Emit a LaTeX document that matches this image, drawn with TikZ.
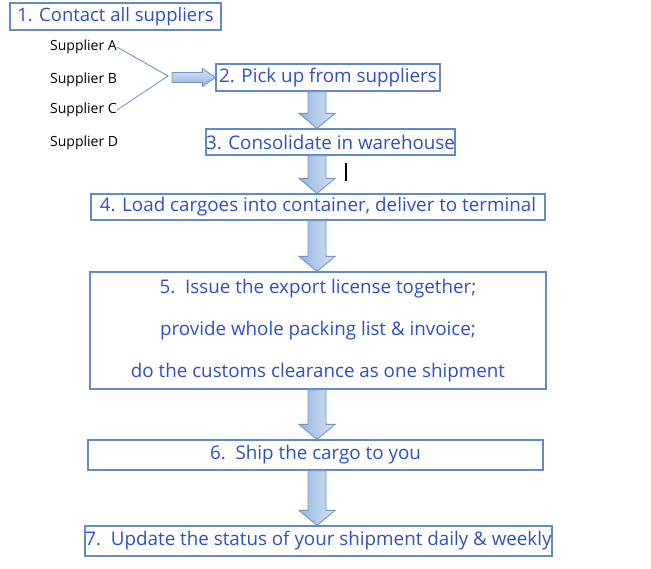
\documentclass[tikz,border=0pt]{standalone}
\usepackage{fontspec}
\setmainfont{Open Sans}
\usepackage{tikz}
\usetikzlibrary{arrows.meta,calc,positioning}
\usepackage{xcolor}

\definecolor{boxline}{RGB}{98,138,198}
\definecolor{steptext}{RGB}{48,78,200}
\definecolor{arrowline}{RGB}{112,150,200}
\definecolor{arrowlight}{RGB}{212,226,244}
\definecolor{arrowdark}{RGB}{150,182,222}

\tikzset{
  stepbox/.style={draw=boxline, line width=1.2pt, text=steptext, inner sep=0pt,
    font=\fontsize{18.8}{22}\selectfont},
  supplier/.style={anchor=west, inner sep=0pt, font=\fontsize{14}{16}\selectfont},
  fork/.style={draw=arrowline, line width=0.9pt},
  blockdown/.style={draw=arrowline, line width=0.9pt, left color=arrowdark, right color=arrowlight},
  blockright/.style={draw=arrowline, line width=0.9pt, top color=arrowlight, bottom color=arrowdark},
}

\begin{document}
\begin{tikzpicture}[x=1pt, y=-1pt]
    \useasboundingbox (0,0) rectangle (651,569);

    % 步骤框
    \node[stepbox, minimum width=211pt, minimum height=27pt, font=\fontsize{18.5}{22}\selectfont] (s1) at (115.5,16.5) {1. Contact all suppliers};
    \node[stepbox, minimum width=224pt, minimum height=27pt] (s2) at (328,77.5) {2. Pick up from suppliers};
    \node[stepbox, minimum width=249pt, minimum height=26pt] (s3) at (330.5,142) {3. Consolidate in warehouse};
    \node[stepbox, minimum width=454pt, minimum height=26pt] (s4) at (318,207) {4. Load cargoes into container, deliver to terminal};
    \node[stepbox, minimum width=456pt, minimum height=117pt, align=center] (s5) at (318,330.5)
        {5.\ \ Issue the export license together;\\[20pt]
         provide whole packing list \& invoice;\\[20pt]
         do the customs clearance as one shipment};
    \node[stepbox, minimum width=455pt, minimum height=30pt] (s6) at (315.5,455) {6.\ \ Ship the cargo to you};
    \node[stepbox, minimum width=467pt, minimum height=30pt] (s7) at (318.5,541) {7.\ \ Update the status of your shipment daily \& weekly};

    % 供应商
    \node[supplier] (supA) at (50,47) {Supplier A};
    \node[supplier] (supB) at (50,80) {Supplier B};
    \node[supplier] (supC) at (50,110) {Supplier C};
    \node[supplier] (supD) at (50,143) {Supplier D};

    \coordinate (join) at (168,76);
    \draw[fork] (supA.east) -- (join) -- (supC.east);

    % 横向箭头
    \draw[blockright] let \p1=(join), \p2=(s2.west) in
        (\x1+4pt,\y2+5pt) -- (\x2-13pt,\y2+5pt) -- (\x2-13pt,\y2+9pt) -- (\x2,\y2)
        -- (\x2-13pt,\y2-9pt) -- (\x2-13pt,\y2-5pt) -- (\x1+4pt,\y2-5pt) -- cycle;

    % 纵向箭头
    \foreach \a/\b in {s2/s3, s3/s4, s4/s5, s5/s6, s6/s7}{
        \draw[blockdown] let \p1=(\a.south), \p2=(\b.north), \p3=(317,0) in
            (\x3-9pt,\y1) -- (\x3-9pt,\y2+15pt) -- (\x3-18pt,\y2+15pt) -- (\x3,\y2)
            -- (\x3+18pt,\y2+15pt) -- (\x3+9pt,\y2+15pt) -- (\x3+9pt,\y1) -- cycle;
    }

    % 光标
    \draw[line width=1.6pt] (346,163) -- (346,181);
\end{tikzpicture}
\end{document}
